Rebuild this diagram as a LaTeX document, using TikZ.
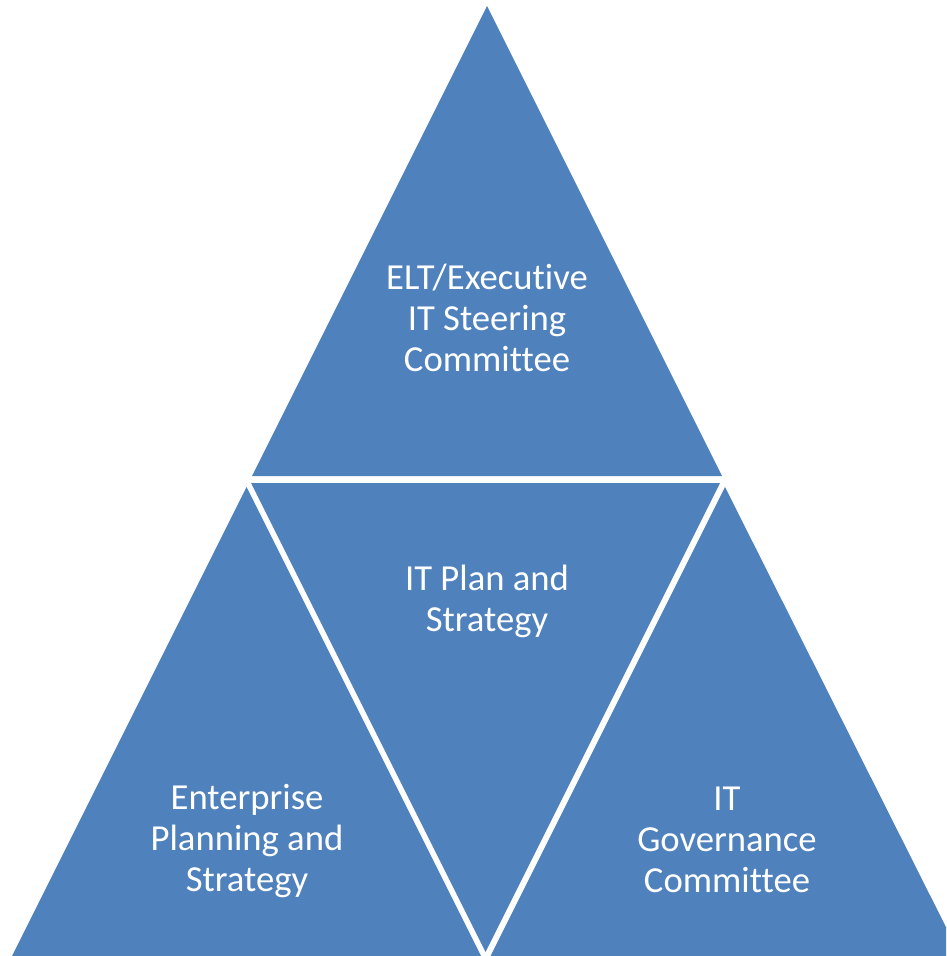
\documentclass[tikz,border=0pt]{standalone}
\usepackage{fontspec}
\setmainfont{Carlito}[Ligatures={NoCommon}]
\definecolor{triblue}{HTML}{4F81BD}
\begin{document}
\begin{tikzpicture}[x=0.75pt,y=-0.75pt,
  tri/.style={fill=triblue,draw=none},
  lbl/.style={text=white,align=center,font=\fontsize{27.5}{30.7}\selectfont,inner sep=0pt}]
\useasboundingbox (0,0) rectangle (946,956);
\clip (0,0) rectangle (946,956);
\fill[tri] (487,6) -- (252,476) -- (722,476) -- cycle;
\fill[tri] (251,483) -- (720,483) -- (485.5,952) -- cycle;
\fill[tri] (246.5,487) -- (11.5,957) -- (481.5,957) -- cycle;
\fill[tri] (725,487) -- (490,957) -- (961,957) -- cycle;
\node[lbl] (top) at (487,318) {ELT/Executive\\IT Steering\\Committee};
\node[lbl] (mid) at (487,601) {IT Plan and\\Strategy};
\node[lbl] (left) at (247,841) {Enterprise\\Planning and\\Strategy};
\node[lbl] (right) at (727,840) {IT\\Governance\\Committee};
\end{tikzpicture}
\end{document}
